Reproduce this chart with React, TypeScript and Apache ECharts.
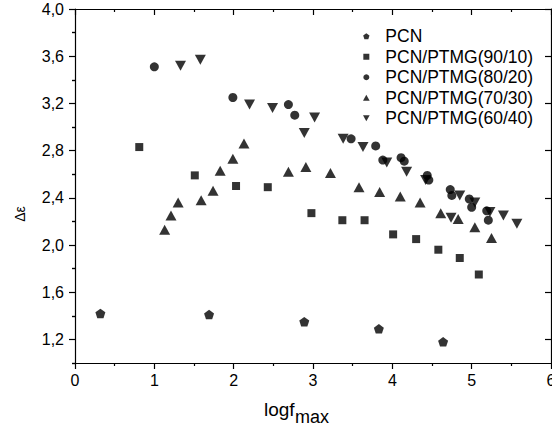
import React, { useEffect, useRef } from "react";
import * as echarts from "echarts";

const FONT = "'Liberation Sans', Arial, Helvetica, sans-serif";

const seriesNames = [
  "PCN",
  "PCN/PTMG(90/10)",
  "PCN/PTMG(80/20)",
  "PCN/PTMG(70/30)",
  "PCN/PTMG(60/40)",
];

const xTickValues = [0, 1, 2, 3, 4, 5, 6];
const yMajorTicks = [1.2, 1.6, 2.0, 2.4, 2.8, 3.2, 3.6, 4.0];
const yMinorTicks = [1.0, 1.4, 1.8, 2.2, 2.6, 3.0, 3.4, 3.8];

const pcn = [
  [0.32, 1.42], [1.69, 1.41], [2.89, 1.35], [3.83, 1.29], [4.64, 1.18],
];
const ptmg9010 = [
  [0.81, 2.83], [1.51, 2.59], [2.03, 2.5], [2.43, 2.49], [2.98, 2.27],
  [3.37, 2.21], [3.65, 2.21], [4.01, 2.09], [4.3, 2.05], [4.58, 1.96],
  [4.85, 1.89], [5.09, 1.75],
];
const ptmg8020 = [
  [1.0, 3.51], [1.99, 3.25], [2.69, 3.19], [2.77, 3.1], [3.48, 2.9],
  [3.79, 2.84], [3.88, 2.72], [4.11, 2.74], [4.15, 2.71], [4.44, 2.59],
  [4.46, 2.55], [4.73, 2.47], [4.75, 2.42], [4.97, 2.39], [5.0, 2.32],
  [5.19, 2.29], [5.21, 2.21],
];
const ptmg7030 = [
  [1.13, 2.13], [1.21, 2.25], [1.3, 2.36], [1.59, 2.38], [1.74, 2.46],
  [1.83, 2.63], [1.99, 2.73], [2.13, 2.86], [2.69, 2.62], [2.91, 2.66],
  [3.22, 2.61], [3.58, 2.49], [3.84, 2.45], [4.1, 2.41], [4.35, 2.36],
  [4.61, 2.27], [4.83, 2.22], [5.04, 2.15], [5.25, 2.06],
];
const ptmg6040 = [
  [1.33, 3.52], [1.58, 3.57], [2.2, 3.19], [2.49, 3.16], [2.89, 2.95],
  [3.02, 3.08], [3.38, 2.9], [3.63, 2.83], [3.93, 2.7], [4.18, 2.62],
  [4.42, 2.55], [4.74, 2.23], [4.85, 2.42], [5.04, 2.36], [5.23, 2.28],
  [5.4, 2.25], [5.57, 2.18],
];

const PENTAGON = "path://M0,-10L9.51,-3.09L5.88,8.09L-5.88,8.09L-9.51,-3.09Z";
const SQUARE = "path://M0,0L10,0L10,10L0,10Z";
const TRI_UP = "path://M5,0L10,9L0,9Z";
const TRI_DOWN = "path://M0,0L10,0L5,9Z";

const fmtComma = (v: number) => v.toFixed(1).replace(".", ",");

export default function App() {
  const ref = useRef<HTMLDivElement>(null);

  useEffect(() => {
    if (!ref.current) return;
    document.body.style.margin = "0";
    const chart = echarts.init(ref.current, null, { renderer: "svg" });
    const black = "#000";
    const lineStyle = { color: black, width: 1.2 };

    const baseX = {
      type: "value" as const,
      min: 0,
      max: 6,
      interval: 1,
      splitLine: { show: false },
      axisLine: { show: true, onZero: false, lineStyle },
    };
    const baseY = {
      type: "value" as const,
      min: 1,
      max: 4,
      splitLine: { show: false },
    };

    const mk = (name: string, data: number[][], symbol: string, size: any) => ({
      name,
      type: "scatter" as const,
      data,
      symbol,
      symbolSize: size,
      itemStyle: { color: black },
      xAxisIndex: 0,
      yAxisIndex: 0,
    });

    chart.setOption({
      animation: false,
      backgroundColor: "#fff",
      textStyle: { fontFamily: FONT },
      grid: {
        left: 75,
        right: 1,
        top: 9,
        bottom: 69,
        containLabel: false,
        outerBoundsMode: "none",
      },
      legend: {
        orient: "vertical",
        left: 358,
        top: 21,
        itemWidth: 28,
        itemHeight: 6,
        itemGap: 0,
        selectedMode: false,
        textStyle: { fontSize: 17.5, color: black, fontFamily: FONT, lineHeight: 20.5 },
        data: seriesNames,
      },
      xAxis: [
        {
          ...baseX,
          position: "bottom",
          axisTick: { show: true, inside: false, length: 6, lineStyle },
          minorTick: { show: true, splitNumber: 2, length: 3, lineStyle },
          axisLabel: {
            show: true,
            margin: 9,
            fontSize: 16,
            color: black,
            fontFamily: FONT,
            customValues: xTickValues,
            formatter: (v: number) => String(v),
          },
        },
        {
          ...baseX,
          position: "top",
          axisTick: { show: true, inside: true, length: 6, lineStyle },
          minorTick: { show: true, splitNumber: 2, length: 3, lineStyle },
          axisLabel: { show: false },
        },
      ],
      yAxis: [
        {
          ...baseY,
          position: "left",
          axisLine: { show: true, onZero: false, lineStyle },
          axisTick: { show: true, inside: false, length: 6, lineStyle, customValues: yMajorTicks },
          axisLabel: {
            show: true,
            margin: 11,
            fontSize: 16,
            color: black,
            fontFamily: FONT,
            customValues: yMajorTicks,
            formatter: (v: number) => fmtComma(v),
          },
        },
        {
          ...baseY,
          position: "left",
          axisLine: { show: false },
          axisTick: { show: true, inside: false, length: 3, lineStyle, customValues: yMinorTicks },
          axisLabel: { show: false },
        },
        {
          ...baseY,
          position: "right",
          axisLine: { show: true, onZero: false, lineStyle },
          axisTick: { show: true, inside: true, length: 6, lineStyle, customValues: yMajorTicks },
          axisLabel: { show: false },
        },
        {
          ...baseY,
          position: "right",
          axisLine: { show: false },
          axisTick: { show: true, inside: true, length: 3, lineStyle, customValues: yMinorTicks },
          axisLabel: { show: false },
        },
      ],
      graphic: [
        {
          type: "text",
          x: 20,
          y: 214,
          rotation: Math.PI / 2,
          style: {
            text: "Δε",
            fontSize: 14,
            fontFamily: FONT,
            fill: black,
            textAlign: "center",
            textVerticalAlign: "middle",
          },
        },
        {
          type: "text",
          x: 264,
          y: 409,
          style: {
            text: "logf",
            fontSize: 19,
            fontFamily: FONT,
            fill: black,
            textAlign: "left",
            textVerticalAlign: "middle",
          },
        },
        {
          type: "text",
          x: 295,
          y: 417,
          style: {
            text: "max",
            fontSize: 18,
            fontFamily: FONT,
            fill: black,
            textAlign: "left",
            textVerticalAlign: "middle",
          },
        },
      ],
      series: [
        mk(seriesNames[0], pcn, PENTAGON, [10, 9.5]),
        mk(seriesNames[1], ptmg9010, SQUARE, 8),
        mk(seriesNames[2], ptmg8020, "circle", 9),
        mk(seriesNames[3], ptmg7030, TRI_UP, [11, 10]),
        mk(seriesNames[4], ptmg6040, TRI_DOWN, [11, 10]),
      ],
    });

    return () => chart.dispose();
  }, []);

  return (
    <div
      ref={ref}
      style={{ position: "fixed", left: 0, top: 0, width: 552, height: 432 }}
    />
  );
}
